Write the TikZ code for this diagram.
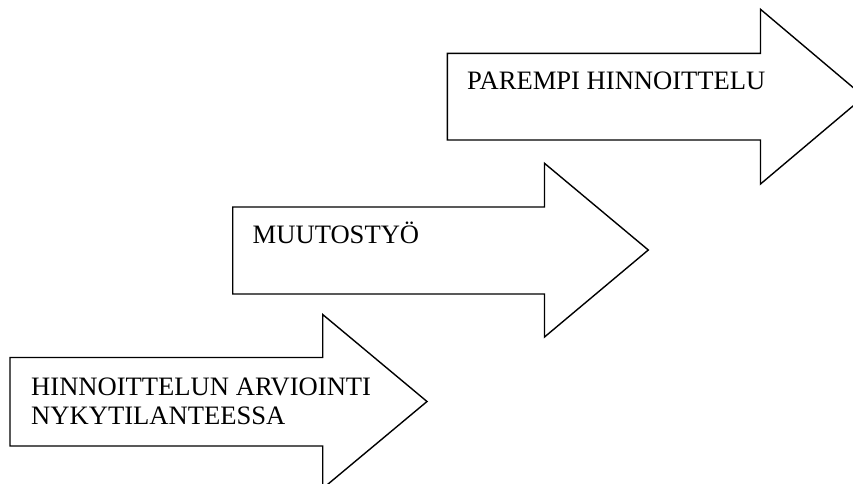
\documentclass[tikz,border=0pt]{standalone}
\usepackage{fontspec}
\setmainfont{Liberation Serif}
\begin{document}
\begin{tikzpicture}[x=1pt,y=-1pt,
  arrowbody/.style={draw=black, line width=1.4pt, line join=miter, fill=white},
  label/.style={anchor=base west, inner sep=0pt, font=\fontsize{26.6}{30}\selectfont}]
\useasboundingbox (0,0) rectangle (853,483);
\clip (0,0) rectangle (853,483);
\fill[white] (0,0) rectangle (853,483);

% step 1: lower arrow
\draw[arrowbody] (10,357.5) -- (322.7,357.5) -- (322.7,314.5) -- (427,401.5)
  -- (322.7,488.5) -- (322.7,446) -- (10,446) -- cycle;
\node[label] (arvio1) at (31,395) {HINNOITTELUN ARVIOINTI};
\node[label] (arvio2) at (31,424.5) {NYKYTILANTEESSA};

% step 2: middle arrow
\draw[arrowbody] (232.7,207) -- (544.5,207) -- (544.5,163.3) -- (648.3,250)
  -- (544.5,337) -- (544.5,294) -- (232.7,294) -- cycle;
\node[label] (muutos) at (252.5,243.3) {MUUTOSTYÖ};

% step 3: upper arrow
\draw[arrowbody] (447.3,53.3) -- (760.5,53.3) -- (760.5,9.3) -- (864,96.7)
  -- (760.5,184) -- (760.5,140) -- (447.3,140) -- cycle;
\node[label] (parempi) at (467,89) {PAREMPI HINNOITTELU};
\end{tikzpicture}
\end{document}
